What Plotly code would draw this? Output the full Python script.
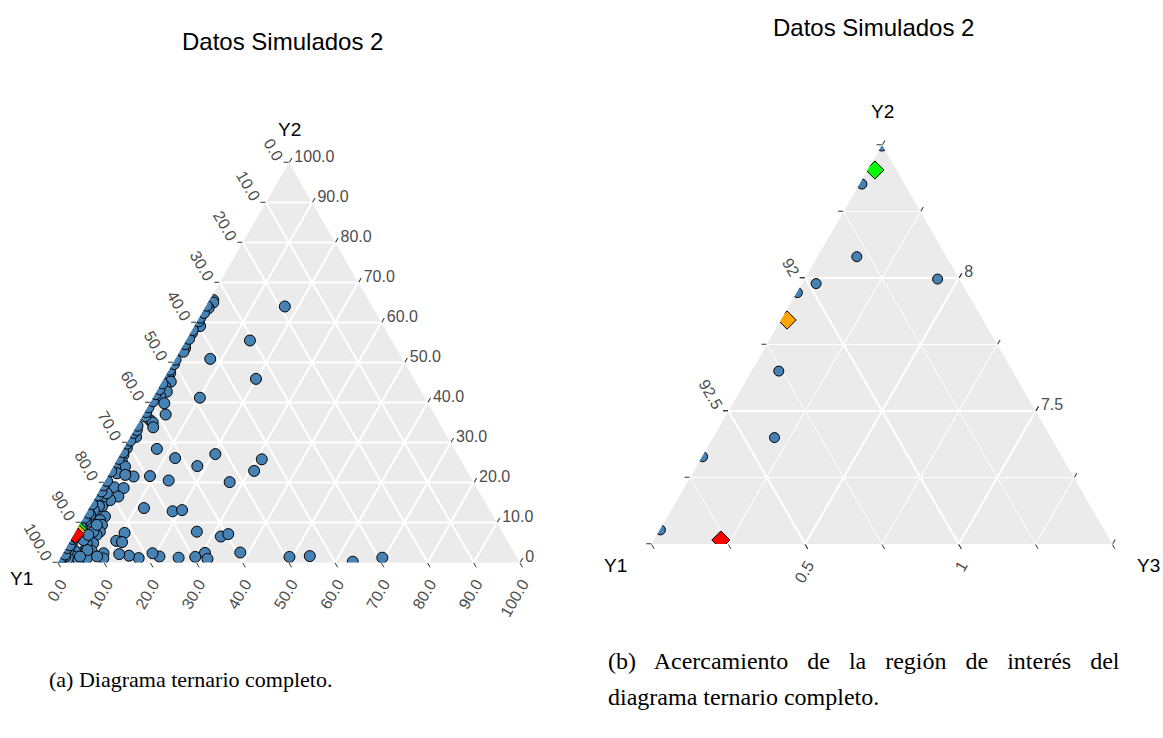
import plotly.graph_objects as go

# ---------------- data: compositions (percent) ----------------
y1 = [18.9, 30.7, 39.7, 41.6, 34.2, 48.7, 61.6, 64.4, 57.8, 52.4, 43.0, 46.1, 52.8, 65.8, 69.3,
      72.9, 74.3, 73.8, 78.4, 76.5, 78.7, 82.2, 74.6, 68.8, 66.6, 66.1, 61.5, 59.6, 59.3, 49.2,
      44.7, 36.1, 29.2, 67.0, 67.2, 69.6, 73.3, 77.3, 78.4, 82.0, 83.8, 85.7, 89.0, 89.7, 81.9,
      84.7, 52.1, 53.0, 53.0, 54.8, 55.1, 57.1, 57.1, 58.2, 62.3, 62.0, 62.5, 62.9, 67.4, 33.6,
      33.9, 35.6, 45.7, 46.5, 42.4, 70.8, 72.4, 73.6, 73.5, 75.8, 76.1, 74.5, 80.9, 82.6, 83.5,
      85.5, 85.3, 84.1, 85.6, 87.3, 88.0, 85.8, 87.1, 88.2, 90.5, 90.0, 91.4, 92.6, 91.3, 94.1,
      94.9, 95.9, 97.2, 97.7, 95.3, 93.2, 90.8, 83.6, 88.5, 80.8, 84.1, 85.7, 87.1, 88.7, 90.4,
      91.7, 94.6, 96.2, 92.1, 94.5, 90.0, 86.9,
      99.3, 98.7, 97.5, 96.2, 95.3, 93.9, 93.1, 90.5, 88.6, 87.2, 85.3, 82.9, 81.7, 80.5, 79.2,
      77.1, 73.9, 72.1, 70.2, 69.1, 67.4, 66.4, 65.7, 62.1, 61.0, 59.3, 57.8, 56.4, 55.0, 51.7,
      50.1, 49.2, 45.2, 43.7, 41.8, 39.4, 38.6, 37.2, 35.7,
      91.502, 91.639, 91.792, 91.571, 91.975, 92.053, 92.261, 92.400, 92.670, 92.945]
y2 = [64.0, 55.5, 59.1, 50.9, 45.9, 41.2, 26.1, 28.4, 24.1, 27.1, 25.8, 22.9, 20.1, 20.5, 21.6,
      21.5, 22.3, 24.4, 18.8, 18.6, 16.5, 15.2, 13.6, 12.8, 13.1, 7.7, 6.5, 7.1, 2.5, 1.4,
      1.6, 0.2, 1.2, 2.4, 0.9, 1.4, 1.2, 1.5, 2.3, 1.1, 1.7, 2.1, 2.3, 1.0, 7.4,
      5.4, 47.3, 46.3, 45.2, 44.0, 42.7, 41.5, 39.8, 37.0, 35.6, 35.0, 33.8, 36.5, 31.4, 65.6,
      65.0, 63.6, 53.6, 52.7, 57.3, 28.6, 26.9, 25.2, 24.0, 23.6, 22.3, 21.9, 15.6, 15.9, 14.0,
      13.6, 11.9, 11.5, 10.6, 9.4, 10.2, 9.4, 7.7, 6.9, 5.2, 4.8, 4.8, 3.1, 2.9, 2.3,
      2.9, 1.5, 1.1, 1.5, 0.6, 1.1, 1.5, 5.1, 7.7, 17.3, 14.1, 13.1, 11.9, 10.6, 8.7,
      5.6, 4.8, 3.1, 3.1, 1.5, 6.9, 9.4,
      0.4, 1.2, 2.0, 3.6, 4.3, 5.9, 6.4, 9.2, 11.2, 12.4, 14.6, 16.8, 17.8, 19.3, 20.4,
      22.8, 25.9, 27.6, 29.7, 30.5, 32.4, 33.1, 34.2, 37.6, 38.8, 40.3, 42.1, 43.3, 44.8, 48.2,
      49.6, 50.7, 54.6, 55.9, 58.1, 60.3, 61.2, 62.4, 64.2,
      8.496, 8.353, 8.080, 7.996, 7.979, 7.945, 7.650, 7.400, 7.328, 7.053]
y3 = [17.1, 13.8, 1.2, 7.5, 19.9, 10.1, 12.3, 7.2, 18.1, 20.5, 31.2, 31.0, 27.1, 13.7, 9.1,
      5.6, 3.4, 1.8, 2.8, 4.9, 4.8, 2.6, 11.8, 18.4, 20.3, 26.2, 32.0, 33.3, 38.2, 49.4,
      53.7, 63.7, 69.6, 30.6, 31.9, 29.0, 25.5, 21.2, 19.3, 16.9, 14.5, 12.2, 8.7, 9.3, 10.7,
      9.9, 0.6, 0.7, 1.8, 1.2, 2.2, 1.4, 3.1, 4.8, 2.1, 3.0, 3.7, 0.6, 1.2, 0.8,
      1.1, 0.8, 0.7, 0.8, 0.3, 0.6, 0.7, 1.2, 2.5, 0.6, 1.6, 3.6, 3.5, 1.5, 2.5,
      0.9, 2.8, 4.4, 3.8, 3.3, 1.8, 4.8, 5.2, 4.9, 4.3, 5.2, 3.8, 4.3, 5.8, 3.6,
      2.2, 2.6, 1.7, 0.8, 4.1, 5.7, 7.7, 11.3, 3.8, 1.9, 1.8, 1.2, 1.0, 0.7, 0.9,
      2.7, 0.6, 0.7, 4.8, 4.0, 3.1, 3.7,
      0.3, 0.1, 0.5, 0.2, 0.4, 0.2, 0.5, 0.3, 0.2, 0.4, 0.1, 0.3, 0.5, 0.2, 0.4,
      0.1, 0.2, 0.3, 0.1, 0.4, 0.2, 0.5, 0.1, 0.3, 0.2, 0.4, 0.1, 0.3, 0.2, 0.1,
      0.3, 0.1, 0.2, 0.4, 0.1, 0.3, 0.2, 0.4, 0.1,
      0.002, 0.008, 0.128, 0.433, 0.046, 0.002, 0.089, 0.200, 0.002, 0.002]

# highlighted compositions (diamonds)
opt_y1 = [91.570, 92.138, 92.767]
opt_y2 = [8.406, 7.842, 7.015]
opt_y3 = [0.024, 0.020, 0.218]
opt_colors = ["#00FF00", "#FFA500", "#FF0000"]

# axis breaks
full_breaks = [0, 10, 20, 30, 40, 50, 60, 70, 80, 90, 100]
zoom_y2_min, zoom_y1_min, zoom_y3_min = 7.0, 91.5, 0.0
zoom_span = 1.5
zoom_minor = 0.25
zoom_major = 0.5

TITLE = "Datos Simulados 2"
CAPTION_A = "(a) Diagrama ternario completo."
CAPTION_B1 = "(b) Acercamiento de la región de interés del"
CAPTION_B2 = "diagrama ternario completo."

# ---------------- styling ----------------
W, H = 1163, 738
SANS = "Liberation Sans, Arial, Helvetica, sans-serif"
SERIF = "Liberation Serif, Times New Roman, serif"
BG = "#EBEBEB"
STEEL = "#4682B4"


def dom(px0, px1, ptop, pbot):
    return dict(x=[px0 / W, px1 / W], y=[1 - pbot / H, 1 - ptop / H])


def ax(vals, texts, angle, gw, labels=True, minv=None):
    d = dict(tickmode="array", tickvals=vals, ticktext=texts, tickangle=angle,
             ticks="outside", ticklen=5, tickwidth=1, tickcolor="#333333",
             showline=False, showgrid=True, gridcolor="white", gridwidth=gw,
             showticklabels=labels, title=dict(text=""),
             tickfont=dict(family=SANS, size=16, color="#4D4D4D"), layer="below traces")
    if minv is not None:
        d["min"] = minv
    return d


def fmt1(v):
    return f"{v:.1f}"


def fmtg(v):
    return f"{round(v, 4):g}"


# full diagram: each edge is labelled with the component whose vertex it runs toward
full_lab = [fmt1(100 - v) for v in full_breaks]

# zoomed diagram
a_lo = zoom_y2_min
b_lo = zoom_y1_min
c_lo = zoom_y3_min
n_minor = int(round(zoom_span / zoom_minor))
a_minor = [a_lo + i * zoom_minor for i in range(n_minor + 1)]
b_minor = [b_lo + i * zoom_minor for i in range(n_minor + 1)]
c_minor = [c_lo + i * zoom_minor for i in range(n_minor + 1)]
n_major = int(round(zoom_span / zoom_major))
a_major = [a_lo + i * zoom_major for i in range(1, n_major)]
b_major = [b_lo + i * zoom_major for i in range(1, n_major)]
c_major = [c_lo + i * zoom_major for i in range(1, n_major)]

fig = go.Figure()


def circle_marker(s):
    return dict(symbol="circle", size=s, color=STEEL, line=dict(color="black", width=1))


diamond_marker = dict(symbol="diamond", size=14, color=opt_colors,
                      line=dict(color="black", width=1))

# full diagram
fig.add_trace(go.Scatterternary(a=y2, b=y1, c=y3, mode="markers", subplot="ternary",
                                marker=circle_marker(11), hoverinfo="skip"))
fig.add_trace(go.Scatterternary(a=opt_y2, b=opt_y1, c=opt_y3, mode="markers",
                                subplot="ternary", marker=diamond_marker, hoverinfo="skip"))
# zoom: minor grid layer
fig.add_trace(go.Scatterternary(a=[], b=[], c=[], mode="markers", subplot="ternary2",
                                hoverinfo="skip"))
# zoom: major grid + points
fig.add_trace(go.Scatterternary(a=y2, b=y1, c=y3, mode="markers", subplot="ternary3",
                                marker=circle_marker(10), hoverinfo="skip"))
fig.add_trace(go.Scatterternary(a=opt_y2, b=opt_y1, c=opt_y3, mode="markers",
                                subplot="ternary3", marker=diamond_marker, hoverinfo="skip"))

left_dom = dom(58, 520, 162.5, 562.5)
right_dom = dom(651.5, 1112.5, 145, 544)

fig.update_layout(
    width=W, height=H, margin=dict(l=0, r=0, t=0, b=0),
    paper_bgcolor="white", showlegend=False,
    ternary=dict(
        sum=100, bgcolor=BG, domain=left_dom,
        aaxis=ax(full_breaks, full_lab, 60, 1.6),
        baxis=ax(full_breaks, full_lab, -60, 1.6),
        caxis=ax(full_breaks, full_lab, 0, 1.6),
    ),
    ternary2=dict(
        sum=100, bgcolor=BG, domain=right_dom,
        aaxis=ax(a_minor, [""] * len(a_minor), 60, 1, labels=False, minv=a_lo),
        baxis=ax(b_minor, [""] * len(b_minor), -60, 1, labels=False, minv=b_lo),
        caxis=ax(c_minor, [""] * len(c_minor), 0, 1, labels=False, minv=c_lo),
    ),
    ternary3=dict(
        sum=100, bgcolor="rgba(0,0,0,0)", domain=right_dom,
        aaxis=ax(a_major, [fmtg(100 - c_lo - v) for v in a_major], 60, 2, minv=a_lo),
        baxis=ax(b_major, [fmtg(100 - a_lo - v) for v in b_major], -60, 2, minv=b_lo),
        caxis=ax(c_major, [fmtg(100 - b_lo - v) for v in c_major], 0, 2, minv=c_lo),
    ),
)


def ann(text, x, y, size, family=SANS, color="black", xanchor="center"):
    return dict(text=text, x=x / W, y=1 - y / H, xref="paper", yref="paper",
                showarrow=False, xanchor=xanchor, yanchor="middle",
                font=dict(family=family, size=size, color=color))


annotations = [
    ann(TITLE, 282, 42, 24),
    ann(TITLE, 873, 27, 24),
    ann("Y2", 289, 130, 19),
    ann("Y1", 21, 578, 19),
    ann("Y2", 882, 112, 19),
    ann("Y1", 615, 565, 19),
    ann("Y3", 1148, 565, 19),
    ann(CAPTION_A, 47, 679, 22, family=SERIF, xanchor="left"),
    ann('<span style="word-spacing:13px">' + CAPTION_B1 + "</span>", 606, 661, 24,
        family=SERIF, xanchor="left"),
    ann(CAPTION_B2, 606, 697, 24, family=SERIF, xanchor="left"),
]
fig.update_layout(annotations=annotations)

# the left panel ends at the edge of its frame
fig.add_shape(type="rect", xref="paper", yref="paper", layer="above",
              x0=536 / W, x1=600 / W, y0=1 - 600 / H, y1=1 - 540 / H,
              fillcolor="white", line=dict(width=0))

fig.write_html("out.html")
